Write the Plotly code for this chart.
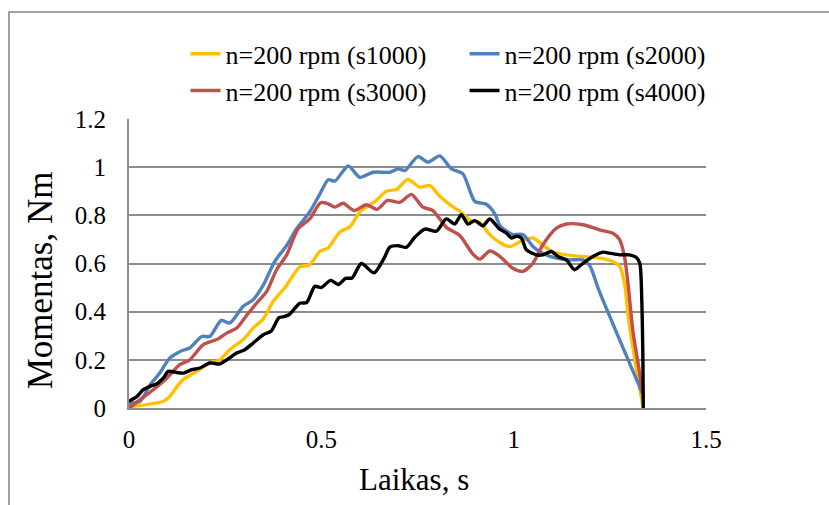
import plotly.graph_objects as go

# ---- data ----
x_s1000 = [0, 0.05, 0.089, 0.106, 0.125, 0.141, 0.176, 0.21, 0.236, 0.262, 0.297, 0.323, 0.349, 0.375,
           0.40, 0.41, 0.444, 0.47, 0.496, 0.518, 0.548, 0.574, 0.60, 0.617, 0.643, 0.669, 0.695, 0.725,
           0.756, 0.782, 0.808, 0.834, 0.86, 0.886, 0.912, 0.938, 0.964, 0.99, 1.016, 1.05, 1.075, 1.10,
           1.137, 1.18, 1.223, 1.258, 1.275, 1.288, 1.297, 1.31, 1.33, 1.337]
y_s1000 = [0.005, 0.015, 0.028, 0.048, 0.09, 0.118, 0.152, 0.187, 0.2, 0.242, 0.284, 0.332, 0.37, 0.443,
           0.49, 0.51, 0.586, 0.595, 0.65, 0.665, 0.731, 0.752, 0.814, 0.834, 0.862, 0.9, 0.907, 0.949,
           0.917, 0.924, 0.879, 0.844, 0.817, 0.78, 0.77, 0.72, 0.687, 0.67, 0.69, 0.706, 0.678, 0.65,
           0.636, 0.629, 0.622, 0.608, 0.59, 0.52, 0.39, 0.25, 0.06, 0.0]

x_s2000 = [0, 0.029, 0.055, 0.08, 0.106, 0.137, 0.158, 0.189, 0.21, 0.24, 0.262, 0.297, 0.323, 0.349,
           0.379, 0.41, 0.436, 0.47, 0.496, 0.518, 0.535, 0.57, 0.60, 0.635, 0.678, 0.70, 0.717, 0.751,
           0.777, 0.808, 0.838, 0.868, 0.899, 0.929, 0.951, 0.964, 0.981, 0.998, 1.024, 1.05, 1.075,
           1.111, 1.145, 1.18, 1.197, 1.223, 1.335]
y_s2000 = [0.02, 0.028, 0.097, 0.145, 0.207, 0.238, 0.249, 0.297, 0.297, 0.364, 0.353, 0.422, 0.45, 0.51,
           0.609, 0.675, 0.745, 0.815, 0.888, 0.948, 0.942, 1.005, 0.958, 0.979, 0.979, 0.993, 0.986, 1.044,
           1.021, 1.047, 0.993, 0.972, 0.858, 0.846, 0.806, 0.758, 0.735, 0.72, 0.72, 0.671, 0.643,
           0.622, 0.615, 0.615, 0.594, 0.483, 0.06]

x_s3000 = [0, 0.029, 0.063, 0.098, 0.132, 0.158, 0.193, 0.228, 0.254, 0.28, 0.306, 0.332, 0.358, 0.384,
           0.41, 0.44, 0.47, 0.498, 0.518, 0.535, 0.557, 0.585, 0.617, 0.645, 0.672, 0.704, 0.734, 0.764,
           0.79, 0.825, 0.86, 0.894, 0.912, 0.938, 0.964, 0.998, 1.024, 1.05, 1.076, 1.111, 1.137, 1.18,
           1.223, 1.258, 1.275, 1.288, 1.297, 1.31, 1.325, 1.337]
y_s3000 = [0.0, 0.035, 0.076, 0.124, 0.18, 0.2, 0.263, 0.284, 0.311, 0.332, 0.385, 0.436, 0.484, 0.575,
           0.636, 0.745, 0.785, 0.852, 0.848, 0.834, 0.85, 0.82, 0.844, 0.825, 0.862, 0.854, 0.887, 0.834,
           0.82, 0.75, 0.716, 0.639, 0.618, 0.652, 0.63, 0.58, 0.567, 0.601, 0.678, 0.747, 0.764, 0.761,
           0.74, 0.726, 0.70, 0.63, 0.52, 0.32, 0.17, 0.04]

x_s4000 = [0, 0.021, 0.037, 0.055, 0.072, 0.089, 0.102, 0.119, 0.141, 0.163, 0.184, 0.21, 0.236, 0.254,
           0.28, 0.301, 0.323, 0.349, 0.37, 0.39, 0.405, 0.418, 0.444, 0.462, 0.483, 0.5, 0.524, 0.544,
           0.563, 0.58, 0.604, 0.637, 0.665, 0.678, 0.7, 0.721, 0.743, 0.769, 0.799, 0.825, 0.847, 0.864,
           0.881, 0.899, 0.92, 0.938, 0.962, 0.981, 0.994, 1.007, 1.02, 1.033, 1.059, 1.076, 1.098, 1.115,
           1.137, 1.158, 1.18, 1.206, 1.232, 1.249, 1.275, 1.301, 1.319, 1.328, 1.333, 1.336, 1.337]
y_s4000 = [0.028, 0.048, 0.076, 0.09, 0.1, 0.124, 0.152, 0.149, 0.145, 0.159, 0.166, 0.187, 0.183, 0.2,
           0.228, 0.242, 0.27, 0.304, 0.32, 0.375, 0.38, 0.39, 0.435, 0.438, 0.505, 0.5, 0.53, 0.513,
           0.538, 0.54, 0.6, 0.561, 0.628, 0.668, 0.674, 0.667, 0.709, 0.743, 0.734, 0.785, 0.764, 0.803,
           0.764, 0.778, 0.757, 0.785, 0.745, 0.726, 0.706, 0.713, 0.706, 0.657, 0.636, 0.636, 0.65, 0.629,
           0.615, 0.574, 0.601, 0.629, 0.647, 0.643, 0.636, 0.636, 0.625, 0.6, 0.45, 0.2, 0.0]

series_names = ["n=200 rpm (s1000)", "n=200 rpm (s2000)", "n=200 rpm (s3000)", "n=200 rpm (s4000)"]
series_colors = ["#FFC000", "#4F81BD", "#C0504D", "#000000"]
x_ticks = [0, 0.5, 1, 1.5]
x_tick_labels = ["0", "0.5", "1", "1.5"]
y_ticks = [0, 0.2, 0.4, 0.6, 0.8, 1, 1.2]
y_tick_labels = ["0", "0.2", "0.4", "0.6", "0.8", "1", "1.2"]
x_title = "Laikas, s"
y_title = "Momentas, Nm"

FONT = "Liberation Serif, Times New Roman, serif"
GRID = "#8c8c8c"

fig = go.Figure()
for xs, ys, name, col in zip([x_s1000, x_s2000, x_s3000, x_s4000],
                             [y_s1000, y_s2000, y_s3000, y_s4000],
                             series_names, series_colors):
    fig.add_trace(go.Scatter(x=xs, y=ys, name=name, mode="lines",
                             line=dict(color=col, width=3.4, shape="spline", smoothing=0.7)))

fig.update_layout(
    width=829, height=505,
    margin=dict(l=129, r=123, t=119, b=97),
    paper_bgcolor="white", plot_bgcolor="white",
    font=dict(family=FONT, color="black", size=25),
    showlegend=True,
    legend=dict(orientation="h", x=0.098, y=1.307, xanchor="left", yanchor="top",
                entrywidth=234, entrywidthmode="pixels",
                font=dict(family=FONT, size=26, color="black"),
                bgcolor="rgba(0,0,0,0)", tracegroupgap=0),
    xaxis=dict(range=[0, 1.5], tickvals=x_ticks, ticktext=x_tick_labels,
               showgrid=False, zeroline=False, showline=True, linecolor=GRID, linewidth=2,
               ticks="", ticklabelstandoff=8, tickfont=dict(family=FONT, size=25)),
    yaxis=dict(range=[0, 1.2], tickvals=y_ticks, ticktext=y_tick_labels,
               showgrid=True, gridcolor=GRID, gridwidth=2, zeroline=False,
               showline=True, linecolor=GRID, linewidth=2,
               ticks="", ticklabelstandoff=16, tickfont=dict(family=FONT, size=25)),
    shapes=[dict(type="rect", xref="paper", yref="paper", x0=-0.208, x1=1.4, y0=-0.6, y1=1.370,
                 line=dict(color="#868686", width=1.5), fillcolor="rgba(0,0,0,0)", layer="below")],
    annotations=[
        dict(text=y_title, xref="paper", yref="paper", x=-0.152, y=0.443, textangle=-90,
             showarrow=False, xanchor="center", yanchor="middle", font=dict(family=FONT, size=35)),
        dict(text=x_title, xref="paper", yref="paper", x=0.494, y=-0.249,
             showarrow=False, xanchor="center", yanchor="middle", font=dict(family=FONT, size=31)),
    ],
)

fig.write_html("out.html")
